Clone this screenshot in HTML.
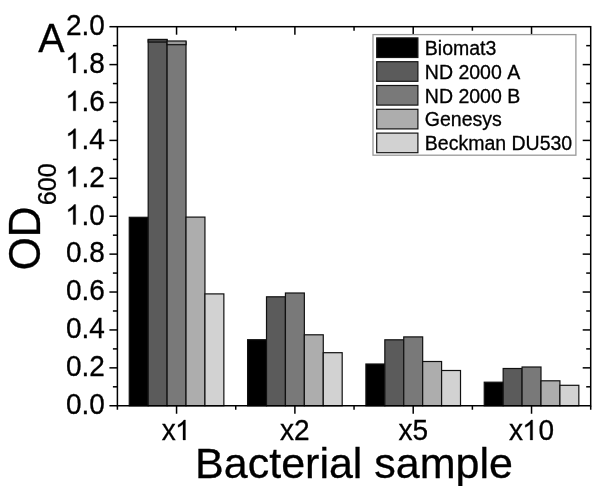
<!DOCTYPE html><html><head><meta charset="utf-8"><title>OD600 chart</title><style>html,body{margin:0;padding:0;background:#fff;width:600px;height:486px;overflow:hidden}svg{display:block;will-change:transform}text{font-family:"Liberation Sans",sans-serif;fill:#000;font-kerning:none;stroke:#000;stroke-width:0.3px}</style></head><body>
<svg width="600" height="486" viewBox="0 0 600 486">
<rect x="0" y="0" width="600" height="486" fill="#fff"/>
<rect x="129.26" y="217.30" width="18.92" height="188.45" fill="#000000" stroke="#111" stroke-width="1.2"/>
<rect x="148.18" y="40.00" width="18.92" height="365.75" fill="#5b5b5b" stroke="#111" stroke-width="1.2"/>
<rect x="167.10" y="41.90" width="18.92" height="363.85" fill="#797979" stroke="#111" stroke-width="1.2"/>
<rect x="186.02" y="217.10" width="18.92" height="188.65" fill="#adadad" stroke="#111" stroke-width="1.2"/>
<rect x="204.94" y="293.90" width="18.92" height="111.85" fill="#d2d2d2" stroke="#111" stroke-width="1.2"/>
<rect x="247.59" y="339.70" width="18.92" height="66.05" fill="#000000" stroke="#111" stroke-width="1.2"/>
<rect x="266.51" y="296.80" width="18.92" height="108.95" fill="#5b5b5b" stroke="#111" stroke-width="1.2"/>
<rect x="285.43" y="293.00" width="18.92" height="112.75" fill="#797979" stroke="#111" stroke-width="1.2"/>
<rect x="304.35" y="334.80" width="18.92" height="70.95" fill="#adadad" stroke="#111" stroke-width="1.2"/>
<rect x="323.27" y="352.70" width="18.92" height="53.05" fill="#d2d2d2" stroke="#111" stroke-width="1.2"/>
<rect x="365.91" y="364.00" width="18.92" height="41.75" fill="#000000" stroke="#111" stroke-width="1.2"/>
<rect x="384.83" y="339.80" width="18.92" height="65.95" fill="#5b5b5b" stroke="#111" stroke-width="1.2"/>
<rect x="403.75" y="336.90" width="18.92" height="68.85" fill="#797979" stroke="#111" stroke-width="1.2"/>
<rect x="422.67" y="361.50" width="18.92" height="44.25" fill="#adadad" stroke="#111" stroke-width="1.2"/>
<rect x="441.59" y="370.50" width="18.92" height="35.25" fill="#d2d2d2" stroke="#111" stroke-width="1.2"/>
<rect x="484.24" y="382.20" width="18.92" height="23.55" fill="#000000" stroke="#111" stroke-width="1.2"/>
<rect x="503.16" y="368.50" width="18.92" height="37.25" fill="#5b5b5b" stroke="#111" stroke-width="1.2"/>
<rect x="522.08" y="367.00" width="18.92" height="38.75" fill="#797979" stroke="#111" stroke-width="1.2"/>
<rect x="541.00" y="380.80" width="18.92" height="24.95" fill="#adadad" stroke="#111" stroke-width="1.2"/>
<rect x="559.92" y="385.30" width="18.92" height="20.45" fill="#d2d2d2" stroke="#111" stroke-width="1.2"/>
<rect x="148.18" y="39.4" width="18.92" height="2.7" fill="#444" stroke="#111" stroke-width="1.2"/>
<rect x="167.10" y="41.0" width="18.92" height="3.7" fill="#9a9a9a" stroke="#111" stroke-width="1.2"/>
<rect x="117.4" y="26.7" width="473.30" height="379.05" fill="none" stroke="#000" stroke-width="1.5"/>
<line x1="109.4" y1="405.75" x2="117.4" y2="405.75" stroke="#000" stroke-width="1.5"/>
<line x1="112.9" y1="386.80" x2="117.4" y2="386.80" stroke="#000" stroke-width="1.5"/>
<line x1="586.20" y1="386.80" x2="590.7" y2="386.80" stroke="#000" stroke-width="1.5"/>
<line x1="109.4" y1="367.85" x2="117.4" y2="367.85" stroke="#000" stroke-width="1.5"/>
<line x1="582.70" y1="367.85" x2="590.7" y2="367.85" stroke="#000" stroke-width="1.5"/>
<line x1="112.9" y1="348.89" x2="117.4" y2="348.89" stroke="#000" stroke-width="1.5"/>
<line x1="586.20" y1="348.89" x2="590.7" y2="348.89" stroke="#000" stroke-width="1.5"/>
<line x1="109.4" y1="329.94" x2="117.4" y2="329.94" stroke="#000" stroke-width="1.5"/>
<line x1="582.70" y1="329.94" x2="590.7" y2="329.94" stroke="#000" stroke-width="1.5"/>
<line x1="112.9" y1="310.99" x2="117.4" y2="310.99" stroke="#000" stroke-width="1.5"/>
<line x1="586.20" y1="310.99" x2="590.7" y2="310.99" stroke="#000" stroke-width="1.5"/>
<line x1="109.4" y1="292.03" x2="117.4" y2="292.03" stroke="#000" stroke-width="1.5"/>
<line x1="582.70" y1="292.03" x2="590.7" y2="292.03" stroke="#000" stroke-width="1.5"/>
<line x1="112.9" y1="273.08" x2="117.4" y2="273.08" stroke="#000" stroke-width="1.5"/>
<line x1="586.20" y1="273.08" x2="590.7" y2="273.08" stroke="#000" stroke-width="1.5"/>
<line x1="109.4" y1="254.13" x2="117.4" y2="254.13" stroke="#000" stroke-width="1.5"/>
<line x1="582.70" y1="254.13" x2="590.7" y2="254.13" stroke="#000" stroke-width="1.5"/>
<line x1="112.9" y1="235.18" x2="117.4" y2="235.18" stroke="#000" stroke-width="1.5"/>
<line x1="586.20" y1="235.18" x2="590.7" y2="235.18" stroke="#000" stroke-width="1.5"/>
<line x1="109.4" y1="216.22" x2="117.4" y2="216.22" stroke="#000" stroke-width="1.5"/>
<line x1="582.70" y1="216.22" x2="590.7" y2="216.22" stroke="#000" stroke-width="1.5"/>
<line x1="112.9" y1="197.27" x2="117.4" y2="197.27" stroke="#000" stroke-width="1.5"/>
<line x1="586.20" y1="197.27" x2="590.7" y2="197.27" stroke="#000" stroke-width="1.5"/>
<line x1="109.4" y1="178.32" x2="117.4" y2="178.32" stroke="#000" stroke-width="1.5"/>
<line x1="582.70" y1="178.32" x2="590.7" y2="178.32" stroke="#000" stroke-width="1.5"/>
<line x1="112.9" y1="159.37" x2="117.4" y2="159.37" stroke="#000" stroke-width="1.5"/>
<line x1="586.20" y1="159.37" x2="590.7" y2="159.37" stroke="#000" stroke-width="1.5"/>
<line x1="109.4" y1="140.41" x2="117.4" y2="140.41" stroke="#000" stroke-width="1.5"/>
<line x1="582.70" y1="140.41" x2="590.7" y2="140.41" stroke="#000" stroke-width="1.5"/>
<line x1="112.9" y1="121.46" x2="117.4" y2="121.46" stroke="#000" stroke-width="1.5"/>
<line x1="586.20" y1="121.46" x2="590.7" y2="121.46" stroke="#000" stroke-width="1.5"/>
<line x1="109.4" y1="102.51" x2="117.4" y2="102.51" stroke="#000" stroke-width="1.5"/>
<line x1="582.70" y1="102.51" x2="590.7" y2="102.51" stroke="#000" stroke-width="1.5"/>
<line x1="112.9" y1="83.56" x2="117.4" y2="83.56" stroke="#000" stroke-width="1.5"/>
<line x1="586.20" y1="83.56" x2="590.7" y2="83.56" stroke="#000" stroke-width="1.5"/>
<line x1="109.4" y1="64.60" x2="117.4" y2="64.60" stroke="#000" stroke-width="1.5"/>
<line x1="582.70" y1="64.60" x2="590.7" y2="64.60" stroke="#000" stroke-width="1.5"/>
<line x1="112.9" y1="45.65" x2="117.4" y2="45.65" stroke="#000" stroke-width="1.5"/>
<line x1="586.20" y1="45.65" x2="590.7" y2="45.65" stroke="#000" stroke-width="1.5"/>
<line x1="109.4" y1="26.70" x2="117.4" y2="26.70" stroke="#000" stroke-width="1.5"/>
<line x1="117.40" y1="405.75" x2="117.40" y2="409.75" stroke="#000" stroke-width="1.5"/>
<line x1="176.56" y1="405.75" x2="176.56" y2="413.75" stroke="#000" stroke-width="1.5"/>
<line x1="176.56" y1="26.7" x2="176.56" y2="34.7" stroke="#000" stroke-width="1.5"/>
<line x1="235.73" y1="405.75" x2="235.73" y2="409.75" stroke="#000" stroke-width="1.5"/>
<line x1="235.73" y1="26.7" x2="235.73" y2="30.7" stroke="#000" stroke-width="1.5"/>
<line x1="294.89" y1="405.75" x2="294.89" y2="413.75" stroke="#000" stroke-width="1.5"/>
<line x1="294.89" y1="26.7" x2="294.89" y2="34.7" stroke="#000" stroke-width="1.5"/>
<line x1="354.05" y1="405.75" x2="354.05" y2="409.75" stroke="#000" stroke-width="1.5"/>
<line x1="354.05" y1="26.7" x2="354.05" y2="30.7" stroke="#000" stroke-width="1.5"/>
<line x1="413.21" y1="405.75" x2="413.21" y2="413.75" stroke="#000" stroke-width="1.5"/>
<line x1="413.21" y1="26.7" x2="413.21" y2="34.7" stroke="#000" stroke-width="1.5"/>
<line x1="472.38" y1="405.75" x2="472.38" y2="409.75" stroke="#000" stroke-width="1.5"/>
<line x1="472.38" y1="26.7" x2="472.38" y2="30.7" stroke="#000" stroke-width="1.5"/>
<line x1="531.54" y1="405.75" x2="531.54" y2="413.75" stroke="#000" stroke-width="1.5"/>
<line x1="531.54" y1="26.7" x2="531.54" y2="34.7" stroke="#000" stroke-width="1.5"/>
<line x1="590.70" y1="405.75" x2="590.70" y2="409.75" stroke="#000" stroke-width="1.5"/>
<g transform="translate(65.98,414.05) scale(1,1.04)"><text x="0" y="0" font-size="28">0.0</text></g>
<g transform="translate(65.98,376.15) scale(1,1.04)"><text x="0" y="0" font-size="28">0.2</text></g>
<g transform="translate(65.98,338.24) scale(1,1.04)"><text x="0" y="0" font-size="28">0.4</text></g>
<g transform="translate(65.98,300.33) scale(1,1.04)"><text x="0" y="0" font-size="28">0.6</text></g>
<g transform="translate(65.98,262.43) scale(1,1.04)"><text x="0" y="0" font-size="28">0.8</text></g>
<g transform="translate(65.98,224.53) scale(1,1.04)"><text x="0" y="0" font-size="28"> .0</text><path d="M708 0L528 0L528 1147Q463 1085 357.5 1023Q252 961 168 930L168 1104Q319 1175 431.5 1275.5Q544 1376 591 1466L708 1466Z" transform="translate(0.00,0) scale(0.01367,-0.01314)" stroke="#000" stroke-width="0.3" vector-effect="non-scaling-stroke"/></g>
<g transform="translate(65.98,186.62) scale(1,1.04)"><text x="0" y="0" font-size="28"> .2</text><path d="M708 0L528 0L528 1147Q463 1085 357.5 1023Q252 961 168 930L168 1104Q319 1175 431.5 1275.5Q544 1376 591 1466L708 1466Z" transform="translate(0.00,0) scale(0.01367,-0.01314)" stroke="#000" stroke-width="0.3" vector-effect="non-scaling-stroke"/></g>
<g transform="translate(65.98,148.71) scale(1,1.04)"><text x="0" y="0" font-size="28"> .4</text><path d="M708 0L528 0L528 1147Q463 1085 357.5 1023Q252 961 168 930L168 1104Q319 1175 431.5 1275.5Q544 1376 591 1466L708 1466Z" transform="translate(0.00,0) scale(0.01367,-0.01314)" stroke="#000" stroke-width="0.3" vector-effect="non-scaling-stroke"/></g>
<g transform="translate(65.98,110.81) scale(1,1.04)"><text x="0" y="0" font-size="28"> .6</text><path d="M708 0L528 0L528 1147Q463 1085 357.5 1023Q252 961 168 930L168 1104Q319 1175 431.5 1275.5Q544 1376 591 1466L708 1466Z" transform="translate(0.00,0) scale(0.01367,-0.01314)" stroke="#000" stroke-width="0.3" vector-effect="non-scaling-stroke"/></g>
<g transform="translate(65.98,72.90) scale(1,1.04)"><text x="0" y="0" font-size="28"> .8</text><path d="M708 0L528 0L528 1147Q463 1085 357.5 1023Q252 961 168 930L168 1104Q319 1175 431.5 1275.5Q544 1376 591 1466L708 1466Z" transform="translate(0.00,0) scale(0.01367,-0.01314)" stroke="#000" stroke-width="0.3" vector-effect="non-scaling-stroke"/></g>
<g transform="translate(65.98,35.00) scale(1,1.04)"><text x="0" y="0" font-size="28">2.0</text></g>
<g transform="translate(161.78,440.00) scale(1,1.04)"><text x="0" y="0" font-size="28">x </text><path d="M708 0L528 0L528 1147Q463 1085 357.5 1023Q252 961 168 930L168 1104Q319 1175 431.5 1275.5Q544 1376 591 1466L708 1466Z" transform="translate(14.00,0) scale(0.01367,-0.01314)" stroke="#000" stroke-width="0.3" vector-effect="non-scaling-stroke"/></g>
<g transform="translate(280.10,440.00) scale(1,1.04)"><text x="0" y="0" font-size="28">x2</text></g>
<g transform="translate(398.43,440.00) scale(1,1.04)"><text x="0" y="0" font-size="28">x5</text></g>
<g transform="translate(508.97,440.00) scale(1,1.04)"><text x="0" y="0" font-size="28">x 0</text><path d="M708 0L528 0L528 1147Q463 1085 357.5 1023Q252 961 168 930L168 1104Q319 1175 431.5 1275.5Q544 1376 591 1466L708 1466Z" transform="translate(14.00,0) scale(0.01367,-0.01314)" stroke="#000" stroke-width="0.3" vector-effect="non-scaling-stroke"/></g>
<text transform="translate(354.05,478.2)" font-size="43" text-anchor="middle">Bacterial sample</text>
<text transform="translate(39.9,270.2) rotate(-90) scale(1,1.04)" font-size="42.5">OD<tspan font-size="25.2" dx="1.2" dy="15.6">600</tspan></text>
<text transform="translate(38.3,51.8) scale(1,1.04)" font-size="39.5">A</text>
<rect x="373" y="34.6" width="202.9" height="120.6" fill="#fff" stroke="#999" stroke-width="1.3"/>
<rect x="376.7" y="37.90" width="41.2" height="19.6" fill="#000000" stroke="#151515" stroke-width="1.2"/>
<text x="424.8" y="55.00" font-size="19.5">Biomat3</text>
<rect x="376.7" y="61.70" width="41.2" height="19.6" fill="#5b5b5b" stroke="#151515" stroke-width="1.2"/>
<text x="424.8" y="78.80" font-size="19.5">ND 2000 A</text>
<rect x="376.7" y="85.50" width="41.2" height="19.6" fill="#797979" stroke="#151515" stroke-width="1.2"/>
<text x="424.8" y="102.60" font-size="19.5">ND 2000 B</text>
<rect x="376.7" y="109.30" width="41.2" height="19.6" fill="#adadad" stroke="#151515" stroke-width="1.2"/>
<text x="424.8" y="126.40" font-size="19.5">Genesys</text>
<rect x="376.7" y="133.10" width="41.2" height="19.6" fill="#d2d2d2" stroke="#151515" stroke-width="1.2"/>
<text x="424.8" y="150.20" font-size="19.5">Beckman DU530</text>
</svg></body></html>
